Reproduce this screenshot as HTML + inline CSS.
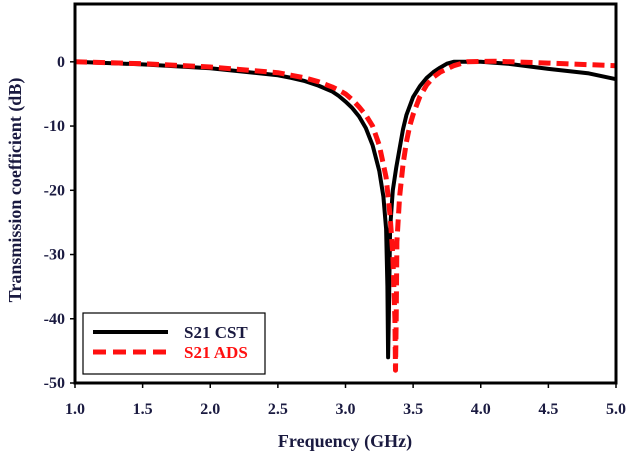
<!DOCTYPE html>
<html><head><meta charset="utf-8"><style>
html,body{margin:0;padding:0;background:#fff;}
svg{display:block;}
text{font-family:"Liberation Serif",serif;font-weight:bold;}
</style></head><body>
<svg id="chart" width="628" height="458" viewBox="0 0 628 458">
<g id="plot"></g>
</svg>
<script>
const xTicks=[1.0,1.5,2.0,2.5,3.0,3.5,4.0,4.5,5.0];
const yTicks=[0,-10,-20,-30,-40,-50];
const cstFreq=[1.0,1.5,2.0,2.5,2.6,2.7,2.8,2.9,2.95,3.0,3.05,3.1,3.15,3.2,3.25,3.28,3.30,3.31,3.315,3.32,3.33,3.35,3.375,3.40,3.425,3.45,3.5,3.55,3.6,3.65,3.7,3.75,3.8,4.0,4.2,4.5,4.8,5.0];
const cstVal=[0,-0.4,-1.0,-2.1,-2.5,-3.0,-3.7,-4.6,-5.3,-6.2,-7.2,-8.5,-10.3,-13,-17,-21,-26,-35,-46,-40,-26,-20,-16.5,-13.5,-10.5,-8.3,-5.5,-3.8,-2.5,-1.6,-0.9,-0.3,0,0,-0.3,-1.1,-1.8,-2.7];
const adsFreq=[1.0,1.5,2.0,2.5,2.6,2.7,2.8,2.9,2.95,3.0,3.05,3.1,3.15,3.2,3.25,3.3,3.33,3.35,3.365,3.37,3.375,3.38,3.40,3.425,3.45,3.475,3.5,3.55,3.6,3.65,3.7,3.8,3.9,4.1,4.5,5.0];
const adsVal=[0,-0.3,-0.8,-1.7,-2.1,-2.5,-3.1,-3.9,-4.4,-5.0,-5.9,-7.0,-8.3,-10,-13,-18,-24,-30,-40,-48,-40,-28,-21,-16,-12.5,-10,-8.2,-5.4,-3.6,-2.4,-1.6,-0.6,0,0.1,-0.2,-0.6];
const L=75,R=616,T=4,B=383;
const xs=f=>L+(f-1)/(5-1)*(R-L);
const ys=v=>B-(v+50)/(9+50)*(B-T);
const NS="http://www.w3.org/2000/svg";
const g=document.getElementById('plot');
function mk(tag,attrs){const e=document.createElementNS(NS,tag);for(const k in attrs)e.setAttribute(k,attrs[k]);g.appendChild(e);return e;}
function pts(fx,fy){return fx.map((f,i)=>xs(f).toFixed(1)+','+ys(fy[i]).toFixed(1)).join(' ');}
let c1=mk('polyline',{points:pts(cstFreq,cstVal),fill:'none',stroke:'#000','stroke-width':4,'stroke-linejoin':'round'});


let c2=mk('polyline',{points:pts(adsFreq,adsVal),fill:'none',stroke:'#ff1010','stroke-width':5,'stroke-dasharray':'12 6','stroke-linejoin':'round'});


let fr=mk('rect',{x:L,y:T,width:R-L,height:B-T,fill:'none',stroke:'#000','stroke-width':3});


xTicks.forEach(t=>{
 const x=xs(t);
 let tk=mk('line',{x1:x,x2:x,y1:B,y2:B+5,stroke:'#000','stroke-width':1.5});
 
 
 let tx=mk('text',{x:x,y:414,'text-anchor':'middle','font-size':16,fill:'#1a1a40'});
 tx.textContent=t.toFixed(1);
 
 
});
yTicks.forEach(t=>{
 const y=ys(t);
 let tk=mk('line',{x1:L-5,x2:L,y1:y,y2:y,stroke:'#000','stroke-width':1.5});
 
 
 let tx=mk('text',{x:L-10,y:y+5,'text-anchor':'end','font-size':16,fill:'#1a1a40'});
 tx.textContent=t;
 
 
});
</script>
<svg width="628" height="458" style="position:absolute;left:0;top:0">
<text x="345" y="447" text-anchor="middle" font-size="18" fill="#1a1a40">Frequency (GHz)</text>
<text transform="translate(21,190) rotate(-90)" text-anchor="middle" font-size="18" fill="#1a1a40">Transmission coefficient (dB)</text>
<g>
<rect x="83" y="313" width="182" height="61" fill="#fff" stroke="#000" stroke-width="1.2"/>
<line x1="93" y1="332" x2="168" y2="332" stroke="#000" stroke-width="4"/>
<line x1="93" y1="352" x2="170" y2="352" stroke="#ff1010" stroke-width="5" stroke-dasharray="13 7"/>
<text x="184" y="338" font-size="17" fill="#1a1a40">S21 CST</text>
<text x="184" y="358" font-size="17" fill="#ff1010">S21 ADS</text>
</g>
</svg>
</body></html>
